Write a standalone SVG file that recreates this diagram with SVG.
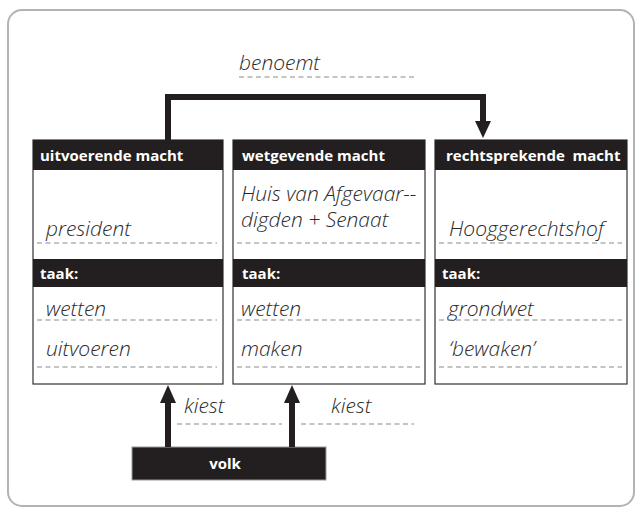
<svg xmlns="http://www.w3.org/2000/svg" width="642" height="514" viewBox="0 0 642 514">
<style>
.frame{fill:#fff;stroke:#b3b3b3;stroke-width:2}
.body{fill:#fff;stroke:#333;stroke-width:1.2}
.bar{fill:#231f20}
.hd{font-family:"Open Sans","DejaVu Sans",sans-serif;font-weight:700;font-size:15px;fill:#fff}
.hw{font-family:"Open Sans","Liberation Sans",sans-serif;font-style:italic;font-weight:300;font-size:21px;fill:#2a2a2a}
.dash{stroke:#8a8a8a;stroke-width:1.2;stroke-dasharray:5 3.5;fill:none}
.conn{stroke:#231f20;stroke-width:6;fill:none}
.head{fill:#231f20}
</style>
<rect class="frame" x="8" y="10" width="626" height="496" rx="14"/>

<g id="label-benoemt">
<text class="hw" x="239" y="70">benoemt</text>
<line class="dash" x1="239" y1="77" x2="414" y2="77"/>
</g>

<g id="node-uitvoerend">
<rect class="body" x="33" y="140" width="190" height="244"/>
<rect class="bar" x="33" y="140" width="190" height="30"/>
<text class="hd" x="40" y="161">uitvoerende macht</text>
<text class="hw" x="46" y="236">president</text>
<line class="dash" x1="37" y1="243" x2="217" y2="243"/>
<rect class="bar" x="33" y="259" width="190" height="28"/>
<text class="hd" x="40" y="279">taak:</text>
<text class="hw" x="46" y="316">wetten</text>
<line class="dash" x1="37" y1="320" x2="217" y2="320"/>
<text class="hw" x="46" y="356">uitvoeren</text>
<line class="dash" x1="37" y1="367" x2="217" y2="367"/>
</g>

<g id="node-wetgevend">
<rect class="body" x="233" y="140" width="192" height="244"/>
<rect class="bar" x="233" y="140" width="192" height="30"/>
<text class="hd" x="242" y="161">wetgevende macht</text>
<text class="hw" x="241" y="201">Huis van Afgevaar--</text>
<text class="hw" x="241" y="227">digden + Senaat</text>
<line class="dash" x1="237" y1="243" x2="420" y2="243"/>
<rect class="bar" x="233" y="259" width="192" height="28"/>
<text class="hd" x="242" y="279">taak:</text>
<text class="hw" x="241" y="316">wetten</text>
<line class="dash" x1="237" y1="320" x2="420" y2="320"/>
<text class="hw" x="241" y="356">maken</text>
<line class="dash" x1="237" y1="367" x2="420" y2="367"/>
</g>

<g id="node-rechtsprekend">
<rect class="body" x="435" y="140" width="192" height="244"/>
<rect class="bar" x="435" y="140" width="192" height="30"/>
<text class="hd" x="446" y="161" xml:space="preserve">rechtsprekende  macht</text>
<text class="hw" x="449" y="236">Hooggerechtshof</text>
<line class="dash" x1="439" y1="243" x2="622" y2="243"/>
<rect class="bar" x="435" y="259" width="192" height="28"/>
<text class="hd" x="442" y="279">taak:</text>
<text class="hw" x="448" y="316">grondwet</text>
<line class="dash" x1="439" y1="320" x2="622" y2="320"/>
<text class="hw" x="449" y="356">‘bewaken’</text>
<line class="dash" x1="439" y1="367" x2="622" y2="367"/>
</g>

<g id="node-volk">
<rect x="132" y="447" width="194" height="33" fill="#231f20" stroke="#999" stroke-width="1"/>
<text class="hd" x="225" y="469" text-anchor="middle">volk</text>
</g>

<g id="connectors">
<path class="conn" d="M168,140 V97 H483 V123"/>
<polygon class="head" points="475,121 491,121 483,138"/>
<line class="conn" x1="168" y1="447" x2="168" y2="400"/>
<polygon class="head" points="160,403 176,403 168,385"/>
<line class="conn" x1="292" y1="447" x2="292" y2="400"/>
<polygon class="head" points="284,403 300,403 292,385"/>
</g>

<g id="labels-kiest">
<text class="hw" x="184" y="413">kiest</text>
<line class="dash" x1="177" y1="424" x2="282" y2="424"/>
<text class="hw" x="331" y="413">kiest</text>
<line class="dash" x1="301" y1="424" x2="414" y2="424"/>
</g>
</svg>
